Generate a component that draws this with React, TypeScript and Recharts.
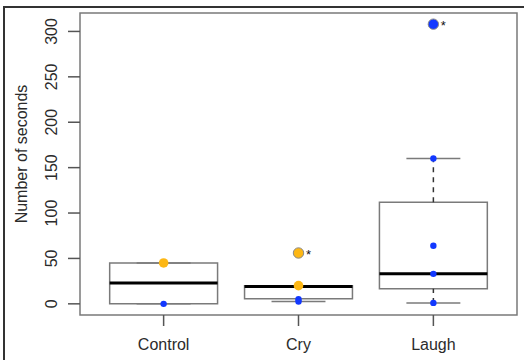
import React from "react";
import {
  ComposedChart,
  Scatter,
  XAxis,
  YAxis,
  ReferenceArea,
  ReferenceLine,
} from "recharts";

const groups = ["Control", "Cry", "Laugh"];
const lowerWhisker = [0, 2.5, 1];
const lowerQuartile = [0, 5.5, 16.5];
const medians = [23, 19, 33];
const upperQuartile = [45, 20, 112];
const upperWhisker = [45, 20, 160];

const blueValues = [
  { group: 1, value: 0 },
  { group: 2, value: 5 },
  { group: 2, value: 2.5 },
  { group: 3, value: 1 },
  { group: 3, value: 33 },
  { group: 3, value: 64 },
  { group: 3, value: 160 },
];
const orangeValues = [
  { group: 1, value: 45 },
  { group: 2, value: 20 },
];
const blueOutliers = [{ group: 3, value: 308 }];
const orangeOutliers = [{ group: 2, value: 56 }];

const yTicks = [0, 50, 100, 150, 200, 250, 300];
const xTicks = [1, 2, 3];

const BLUE = "#1238ff";
const ORANGE = "#fdb714";
const BOX = "#7a7a7a";
const TEXT = "#2b2b2b";

const W = 524;
const H = 360;

function YTick(props: any) {
  const { x, y, payload } = props;
  const tx = x - 9;
  return (
    <text
      x={tx}
      y={y}
      textAnchor="middle"
      fontSize={16}
      fill={TEXT}
      fontFamily="Liberation Sans, Arial, sans-serif"
      transform={`rotate(-90, ${tx}, ${y})`}
    >
      {payload.value}
    </text>
  );
}

function dot(color: string, r: number) {
  return (p: any) => <circle cx={p.cx} cy={p.cy} r={r} fill={color} />;
}

function outlierDot(color: string) {
  return (p: any) => (
    <g>
      <circle cx={p.cx} cy={p.cy} r={5.2} fill={color} stroke="#8a8a8a" strokeWidth={1} />
      <text x={p.cx + 10} y={p.cy + 6} fontSize={13} fill="#111" textAnchor="middle"
        fontFamily="Liberation Sans, Arial, sans-serif">*</text>
    </g>
  );
}

export default function App() {
  return (
    <div style={{ position: "absolute", left: 0, top: 0, width: W, height: H, background: "#fff", overflow: "hidden" }}>
      <div
        style={{
          position: "absolute",
          left: 3,
          top: 6,
          width: W,
          height: H,
          borderLeft: "2px solid #333",
          borderTop: "2px solid #333",
        }}
      />
      <ComposedChart
        width={W}
        height={H}
        margin={{ top: 13, right: 7, bottom: 0, left: 20 }}
        style={{ position: "absolute", left: 0, top: 0 }}
      >
        <XAxis
          dataKey="group"
          type="number"
          domain={[0.38, 3.62]}
          ticks={xTicks}
          allowDataOverflow
          tickFormatter={(v: number) => groups[v - 1]}
          height={45}
          tickSize={11}
          tickMargin={13}
          axisLine={false}
          tickLine={{ stroke: "#555", strokeWidth: 1.5 }}
          tick={{ fontSize: 16, fill: TEXT, fontFamily: "Liberation Sans, Arial, sans-serif" }}
        />
        <YAxis
          dataKey="value"
          type="number"
          domain={[-12.3, 320.3]}
          ticks={yTicks}
          allowDataOverflow
          width={60}
          tickSize={12}
          axisLine={false}
          tickLine={{ stroke: "#555", strokeWidth: 1.5 }}
          tick={<YTick />}
          label={{
            content: (p: any) => {
              const cx = p.viewBox.x + 7;
              const cy = 154;
              return (
                <text
                  x={cx}
                  y={cy}
                  textAnchor="middle"
                  fontSize={16}
                  fill={TEXT}
                  fontFamily="Liberation Sans, Arial, sans-serif"
                  transform={`rotate(-90, ${cx}, ${cy})`}
                >
                  Number of seconds
                </text>
              );
            },
          }}
        />
        <ReferenceArea
          x1={0.38}
          x2={3.62}
          y1={-12.3}
          y2={320.3}
          fill="none"
          stroke={BOX}
          strokeWidth={1.5}
          ifOverflow="visible"
        />
        {groups.map((g, i) => (
          <ReferenceArea
            key={`box-${g}`}
            x1={i + 1 - 0.4}
            x2={i + 1 + 0.4}
            y1={lowerQuartile[i]}
            y2={upperQuartile[i]}
            fill="none"
            stroke={BOX}
            strokeWidth={1.5}
          />
        ))}
        {groups.map((g, i) =>
          upperWhisker[i] > upperQuartile[i] ? (
            <ReferenceLine
              key={`uw-${g}`}
              segment={[
                { x: i + 1, y: upperQuartile[i] },
                { x: i + 1, y: upperWhisker[i] },
              ]}
              stroke="#333"
              strokeWidth={1.5}
              strokeDasharray="5 5"
            />
          ) : null
        )}
        {groups.map((g, i) =>
          lowerWhisker[i] < lowerQuartile[i] ? (
            <ReferenceLine
              key={`lw-${g}`}
              segment={[
                { x: i + 1, y: lowerWhisker[i] },
                { x: i + 1, y: lowerQuartile[i] },
              ]}
              stroke="#333"
              strokeWidth={1.5}
              strokeDasharray="5 5"
            />
          ) : null
        )}
        {groups.map((g, i) => (
          <ReferenceLine
            key={`us-${g}`}
            segment={[
              { x: i + 1 - 0.2, y: upperWhisker[i] },
              { x: i + 1 + 0.2, y: upperWhisker[i] },
            ]}
            stroke={BOX}
            strokeWidth={1.5}
          />
        ))}
        {groups.map((g, i) => (
          <ReferenceLine
            key={`ls-${g}`}
            segment={[
              { x: i + 1 - 0.2, y: lowerWhisker[i] },
              { x: i + 1 + 0.2, y: lowerWhisker[i] },
            ]}
            stroke={BOX}
            strokeWidth={1.5}
          />
        ))}
        {groups.map((g, i) => (
          <ReferenceLine
            key={`med-${g}`}
            segment={[
              { x: i + 1 - 0.4, y: medians[i] },
              { x: i + 1 + 0.4, y: medians[i] },
            ]}
            stroke="#000"
            strokeWidth={3}
          />
        ))}
        <Scatter data={blueValues} dataKey="value" shape={dot(BLUE, 3.2)} isAnimationActive={false} />
        <Scatter data={orangeValues} dataKey="value" shape={dot(ORANGE, 4.8)} isAnimationActive={false} />
        <Scatter data={blueOutliers} dataKey="value" shape={outlierDot(BLUE)} isAnimationActive={false} />
        <Scatter data={orangeOutliers} dataKey="value" shape={outlierDot(ORANGE)} isAnimationActive={false} />
      </ComposedChart>
    </div>
  );
}
